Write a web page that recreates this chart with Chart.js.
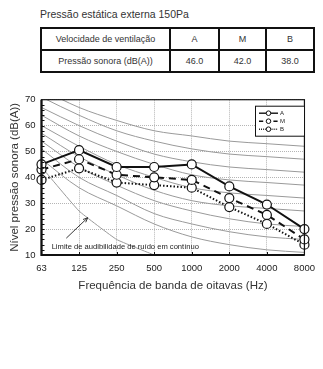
<!DOCTYPE html>
<html>
<head>
<meta charset="utf-8">
<script src="https://cdn.jsdelivr.net/npm/chart.js@4/dist/chart.umd.min.js"></script>
<style>
  body { margin: 0; width: 323px; height: 369px; background: #fff; overflow: hidden; position: relative;
         font-family: "Liberation Sans", Arial, sans-serif; color: #222; }
  #title { position: absolute; left: 40px; top: 8px; font-size: 10.5px; color: #333; }
  table { position: absolute; left: 40px; top: 27px; width: 273px; height: 46px;
          border-collapse: collapse; font-size: 9px; table-layout: fixed; color: #333; }
  td { border: 2px solid #111; text-align: center; padding: 0; }
  #wrap { position: absolute; left: 0; top: 88px; width: 323px; height: 205px; }
</style>
</head>
<body>
<div id="title">Pressão estática externa 150Pa</div>
<table>
  <colgroup><col style="width:129px"><col style="width:49px"><col style="width:47px"><col style="width:48px"></colgroup>
  <tr><td>Velocidade de ventilação</td><td>A</td><td>M</td><td>B</td></tr>
  <tr><td>Pressão sonora (dB(A))</td><td>46.0</td><td>42.0</td><td>38.0</td></tr>
</table>
<div id="wrap"><canvas id="c" width="323" height="205"></canvas></div>
<script>
// Octave band centre frequencies (Hz)
const freqs = ['63', '125', '250', '500', '1000', '2000', '4000', '8000'];

// Sound pressure level per fan speed (dB)
const levelA = [45, 50.5, 44, 44, 45, 36.5, 29.5, 20];
const levelM = [43, 47, 41, 40, 39, 32, 25.5, 16];
const levelB = [39, 43.5, 38, 37, 36, 28.5, 22, 14];

// Noise criterion reference curves
const nc15 = [47, 36, 29, 22, 17, 14, 12, 11];
const nc20 = [51, 40, 33, 26, 22, 19, 17, 16];
const nc25 = [54, 44, 37, 31, 27, 24, 22, 21];
const nc30 = [57, 48, 41, 35, 31, 29, 28, 27];
const nc35 = [60, 52, 45, 40, 36, 34, 33, 32];
const nc40 = [64, 56, 50, 45, 41, 39, 38, 37];
const nc45 = [67, 60, 54, 49, 46, 44, 43, 42];
const nc50 = [71, 64, 58, 54, 51, 49, 48, 47];
const nc55 = [74, 67, 62, 58, 56, 54, 53, 52];

// Hearing threshold for continuous noise
const threshold = [44, 27, 16, 10, null, null, null, null];

const yTicks = [10, 20, 30, 40, 50, 60, 70];

const FONT = '"Liberation Sans", Arial, sans-serif';
const ncCurves = [nc15, nc20, nc25, nc30, nc35, nc40, nc45, nc50, nc55];

const refSets = ncCurves.map(d => ({
  data: d, borderColor: '#9a9a9a', borderWidth: 1, pointRadius: 0,
  cubicInterpolationMode: 'monotone', order: 10, isRef: true
}));
refSets.push({ data: threshold, borderColor: '#9a9a9a', borderWidth: 1, pointRadius: 0,
  tension: 0.1, order: 10, isRef: true, spanGaps: false });

function series(label, data, dash, width) {
  return { label, data, borderColor: '#111', borderWidth: width, borderDash: dash,
    pointRadius: 4.5, pointBorderWidth: 1.2, pointBackgroundColor: '#fff', pointBorderColor: '#111',
    clip: false, order: 0, tension: 0 };
}
const mainSets = [
  series('A', levelA, [], 2),
  series('M', levelM, [7, 5], 2),
  series('B', levelB, [1.5, 2], 2)
];

// Frame, inner minor ticks, arrow note and legend box
const decor = {
  id: 'decor',
  afterDatasetsDraw(chart) {
    const { ctx, chartArea: a, scales: { x, y } } = chart;
    ctx.save();
    // minor ticks along the y axis
    ctx.strokeStyle = '#111'; ctx.lineWidth = 1;
    for (let v = 12; v < 70; v += 2) {
      const py = Math.round(y.getPixelForValue(v)) + 0.5;
      ctx.beginPath(); ctx.moveTo(a.left, py); ctx.lineTo(a.left + 3, py); ctx.stroke();
    }
    for (let i = 1; i < freqs.length - 1; i++) {
      const px = Math.round(x.getPixelForValue(i)) + 0.5;
      ctx.beginPath(); ctx.moveTo(px, a.bottom); ctx.lineTo(px, a.bottom - 3); ctx.stroke();
    }
    // plot frame
    ctx.strokeStyle = '#111'; ctx.lineWidth = 1.2;
    ctx.strokeRect(a.left, a.top, a.right - a.left, a.bottom - a.top);
    ctx.lineWidth = 2.2;
    ctx.beginPath(); ctx.moveTo(a.left, a.top); ctx.lineTo(a.left, a.bottom); ctx.lineTo(a.right, a.bottom); ctx.stroke();

    // arrow pointing to the hearing threshold curve
    const x0 = x.getPixelForValue(0.66), y0 = y.getPixelForValue(16.5);
    const x1 = x.getPixelForValue(1.23), y1 = y.getPixelForValue(24.4);
    ctx.lineWidth = 0.9; ctx.strokeStyle = '#222';
    ctx.beginPath(); ctx.moveTo(x0, y0); ctx.lineTo(x1, y1); ctx.stroke();
    const ang = Math.atan2(y1 - y0, x1 - x0);
    ctx.beginPath();
    ctx.moveTo(x1 - 5 * Math.cos(ang - 0.4), y1 - 5 * Math.sin(ang - 0.4));
    ctx.lineTo(x1, y1);
    ctx.lineTo(x1 - 5 * Math.cos(ang + 0.4), y1 - 5 * Math.sin(ang + 0.4));
    ctx.stroke();

    ctx.fillStyle = '#222';
    ctx.font = '7.6px ' + FONT;
    ctx.textBaseline = 'middle'; ctx.textAlign = 'left';
    ctx.fillText('Limite de audibilidade de ruído em contínuo', x.getPixelForValue(0.27), y.getPixelForValue(13.2));

    // legend box
    const lx = 255, ly = a.top + 6, lw = 49, lh = 30;
    ctx.fillStyle = '#fff'; ctx.fillRect(lx, ly, lw, lh);
    ctx.strokeStyle = '#111'; ctx.lineWidth = 1; ctx.setLineDash([]);
    ctx.strokeRect(lx + 0.5, ly + 0.5, lw, lh);
    chart.data.datasets.filter(d => !d.isRef).forEach((d, i) => {
      const cy = ly + 7.5 + i * 8;
      ctx.strokeStyle = '#111'; ctx.lineWidth = 1.4;
      ctx.setLineDash(d.borderDash.length ? d.borderDash.map(v => v * 0.6) : []);
      ctx.beginPath(); ctx.moveTo(lx + 4, cy); ctx.lineTo(lx + 23, cy); ctx.stroke();
      ctx.setLineDash([]);
      ctx.beginPath(); ctx.arc(lx + 13.5, cy, 2.3, 0, Math.PI * 2);
      ctx.fillStyle = '#fff'; ctx.fill(); ctx.lineWidth = 1; ctx.stroke();
      ctx.fillStyle = '#222'; ctx.font = '6px ' + FONT;
      ctx.fillText(d.label, lx + 25, cy + 0.5);
    });
    ctx.restore();
  }
};

new Chart(document.getElementById('c'), {
  type: 'line',
  data: { labels: freqs, datasets: [...mainSets, ...refSets] },
  options: {
    responsive: false, animation: false,
    layout: { padding: { top: 9, right: 16, left: 0, bottom: 0 } },
    plugins: { legend: { display: false }, tooltip: { enabled: false } },
    scales: {
      x: {
        type: 'category', offset: false,
        grid: { color: '#b5b5b5', lineWidth: 1, drawTicks: false },
        border: { display: false, dash: [1, 1] },
        ticks: { color: '#222', font: { family: FONT, size: 9.5 }, padding: 8, maxRotation: 0, autoSkip: false },
        title: { display: true, text: 'Frequência de banda de oitavas (Hz)', color: '#333',
                 font: { family: FONT, size: 11.5 }, padding: { top: 3, bottom: 0 } },
        afterFit(s) { s.height = 38; }
      },
      y: {
        min: 10, max: 70,
        afterBuildTicks(s) { s.ticks = yTicks.map(v => ({ value: v })); },
        grid: { color: '#b5b5b5', lineWidth: 1, drawTicks: false },
        border: { display: false, dash: [1, 1] },
        ticks: { color: '#222', font: { family: FONT, size: 9.5 }, padding: 6 },
        title: { display: true, text: 'Nível pressão sonora (dB(A))', color: '#333',
                 font: { family: FONT, size: 11.5 }, padding: { top: 8, bottom: 2 } },
        afterFit(s) { s.width = 41.5; }
      }
    }
  },
  plugins: [decor]
});
</script>
</body>
</html>
